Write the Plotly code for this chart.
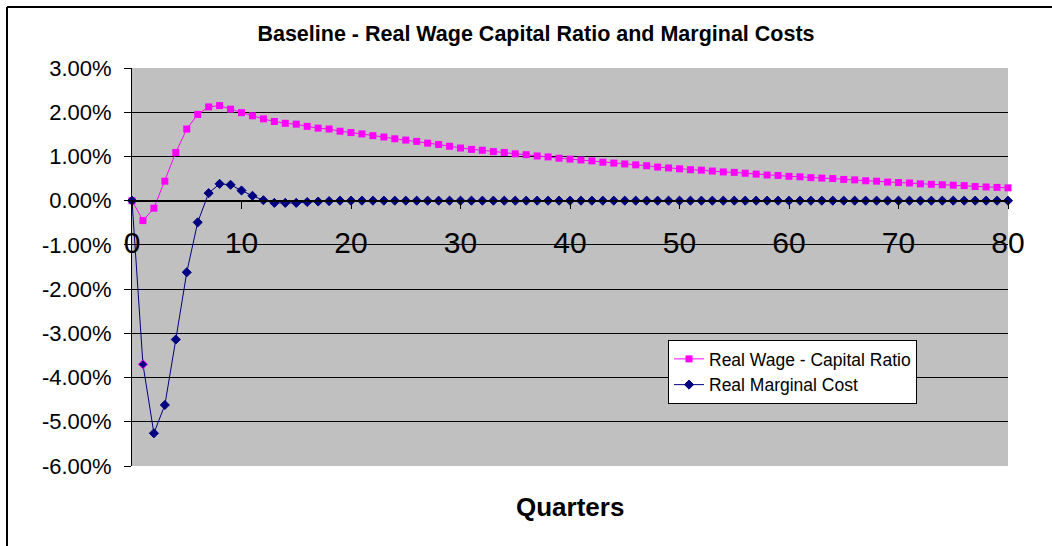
import plotly.graph_objects as go

quarters = list(range(0, 81))

wage_capital = [
    0.00, -0.45, -0.17, 0.44, 1.09, 1.62, 1.95, 2.12, 2.15, 2.07,
    1.99, 1.92, 1.85, 1.79, 1.75, 1.73, 1.68, 1.64, 1.62, 1.57,
    1.54, 1.51, 1.47, 1.44, 1.40, 1.37, 1.34, 1.30, 1.27, 1.23,
    1.19, 1.16, 1.14, 1.11, 1.09, 1.06, 1.04, 1.01, 0.99, 0.96,
    0.94, 0.92, 0.90, 0.87, 0.85, 0.83, 0.81, 0.79, 0.76, 0.74,
    0.72, 0.70, 0.69, 0.67, 0.65, 0.64, 0.62, 0.60, 0.58, 0.57,
    0.55, 0.54, 0.52, 0.51, 0.50, 0.48, 0.47, 0.45, 0.44, 0.42,
    0.41, 0.40, 0.38, 0.37, 0.36, 0.35, 0.34, 0.32, 0.31, 0.30,
    0.29,
]

marginal_cost = [
    0.00, -3.70, -5.26, -4.62, -3.14, -1.62, -0.49, 0.17, 0.38, 0.36,
    0.23, 0.11, 0.01, -0.05, -0.05, -0.05, -0.03, -0.02, -0.01, 0.00,
] + [0.00] * 61

y_ticks = [3, 2, 1, 0, -1, -2, -3, -4, -5, -6]
y_tick_labels = ["3.00%", "2.00%", "1.00%", "0.00%", "-1.00%", "-2.00%",
                 "-3.00%", "-4.00%", "-5.00%", "-6.00%"]
x_ticks = [0, 10, 20, 30, 40, 50, 60, 70, 80]

FONT = "Arial, Liberation Sans, sans-serif"

mc_outline = ["#000080"] * len(marginal_cost)
mc_outline[1] = "#FF00FF"

fig = go.Figure()
fig.add_trace(go.Scatter(
    x=quarters, y=wage_capital, name="Real Wage - Capital Ratio",
    mode="lines+markers",
    line=dict(color="#FF00FF", width=1),
    marker=dict(symbol="square", size=7, color="#FF00FF"),
    cliponaxis=False,
))
fig.add_trace(go.Scatter(
    x=quarters, y=marginal_cost, name="Real Marginal Cost",
    mode="lines+markers",
    line=dict(color="#000080", width=1),
    marker=dict(symbol="diamond", size=7, color="#000080",
                line=dict(color=mc_outline, width=1)),
    cliponaxis=False,
))

fig.update_layout(
    width=1052, height=546,
    margin=dict(l=132, r=44, t=68, b=80),
    paper_bgcolor="white",
    plot_bgcolor="#C0C0C0",
    font=dict(family=FONT, color="black"),
    title=dict(
        text="<b>Baseline - Real Wage Capital Ratio and Marginal Costs</b>",
        x=536 / 1052, xref="container", xanchor="center",
        y=1 - 33 / 546, yref="container", yanchor="middle",
        font=dict(size=21.5, family=FONT, color="black"),
    ),
    xaxis=dict(
        range=[0, 80], tickvals=x_ticks,
        anchor="free", position=6 / 9,
        showline=True, linecolor="black", linewidth=1.5,
        ticks="outside", ticklen=8, tickcolor="black", tickwidth=1,
        ticklabelstandoff=8,
        showgrid=False, zeroline=False,
        tickfont=dict(size=30, family=FONT, color="black"),
    ),
    yaxis=dict(
        range=[-6, 3], tickvals=y_ticks, ticktext=y_tick_labels,
        showline=True, linecolor="black", linewidth=1,
        ticks="outside", ticklen=7, tickcolor="black",
        ticklabelstandoff=8,
        showgrid=True, gridcolor="black", gridwidth=1,
        zeroline=False,
        tickfont=dict(size=22, family=FONT, color="black"),
    ),
    legend=dict(
        x=(668 - 132) / 876, y=(466 - 340) / 398,
        xanchor="left", yanchor="top",
        bgcolor="white", bordercolor="black", borderwidth=1,
        font=dict(size=17.5, family=FONT, color="black"),
        tracegroupgap=0,
    ),
    showlegend=True,
    annotations=[dict(
        text="<b>Quarters</b>", x=(570 - 132) / 876, y=(466 - 507) / 398,
        xref="paper", yref="paper", showarrow=False,
        xanchor="center", yanchor="middle",
        font=dict(size=26, family=FONT, color="black"),
    )],
    shapes=[
        dict(type="line", xref="paper", yref="paper",
             x0=(7 - 132) / 876, x1=1.1, y0=(466 - 7) / 398, y1=(466 - 7) / 398,
             line=dict(color="black", width=2)),
        dict(type="line", xref="paper", yref="paper",
             x0=(7 - 132) / 876, x1=(7 - 132) / 876, y0=(466 - 7) / 398, y1=-0.3,
             line=dict(color="black", width=2)),
    ],
)

fig.write_html(
    "out.html",
    config={"displayModeBar": False},
    post_script="document.body.style.margin='0';document.body.style.padding='0';",
)
